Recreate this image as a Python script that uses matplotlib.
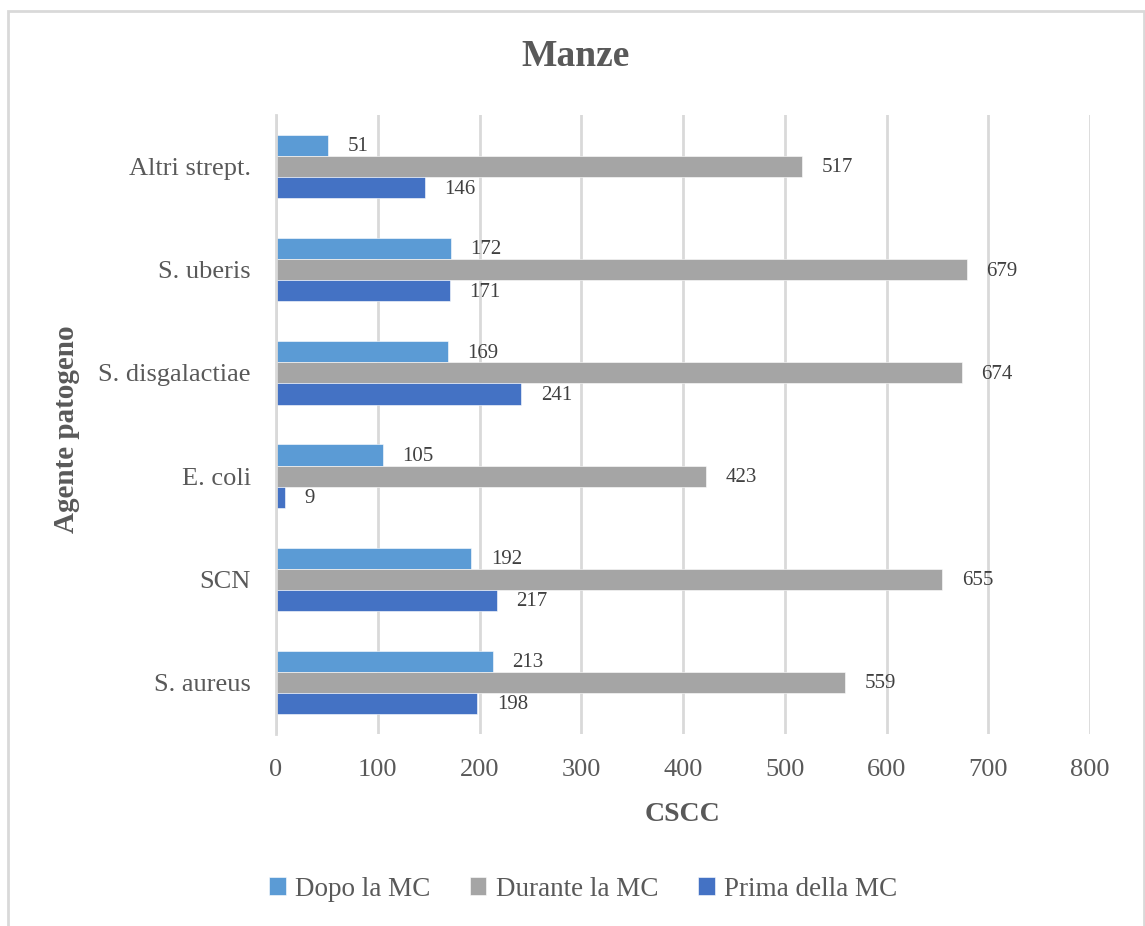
import matplotlib
matplotlib.use("Agg")
import matplotlib.pyplot as plt
from matplotlib.patches import Rectangle
import numpy as np

plt.rcParams['font.family'] = ['Liberation Serif', 'DejaVu Serif']

# Pathogens, listed bottom to top as drawn on the category axis
categories = ["S. aureus", "SCN", "E. coli", "S. disgalactiae", "S. uberis", "Altri strept."]
series_names = ["Dopo la MC", "Durante la MC", "Prima della MC"]
dopo = [213, 192, 105, 169, 172, 51]
durante = [559, 655, 423, 674, 679, 517]
prima = [198, 217, 9, 241, 171, 146]
x_ticks = [0, 100, 200, 300, 400, 500, 600, 700, 800]

colors = ["#5B9BD5", "#A5A5A5", "#4472C4"]
text_dark = "#595959"
label_color = "#404040"
grid_color = "#D9D9D9"

W, H = 1145, 926
fig = plt.figure(figsize=(W / 100, H / 100), dpi=100)
ax = fig.add_axes([276 / W, 1 - 734 / H, (1090 - 276) / W, (734 - 115) / H])

y = np.arange(len(categories))
h = 0.205
offsets = [h, 0.0, -h]
for vals, off, col, name in zip([dopo, durante, prima], offsets, colors, series_names):
    bars = ax.barh(y + off, vals, height=h, color=col, edgecolor="white",
                   linewidth=0.4, label=name, zorder=3)
    for b, v in zip(bars, vals):
        ax.annotate(str(v), (b.get_width(), b.get_y() + b.get_height() / 2),
                    xytext=(14, -1), textcoords="offset points",
                    ha="left", va="center", fontsize=15, color=label_color)

ax.set_xlim(0, 800)
ax.set_ylim(-0.5, len(categories) - 0.5)
ax.set_xticks(x_ticks)
ax.set_xticklabels([str(t) for t in x_ticks])
ax.set_yticks(y)
ax.set_yticklabels(categories)
ax.tick_params(axis="x", length=0, pad=18, labelsize=19, colors=text_dark)
ax.tick_params(axis="y", length=0, pad=18, labelsize=19, colors=text_dark)
ax.xaxis.grid(True, color=grid_color, linewidth=2, zorder=0)
ax.yaxis.grid(False)
for side in ["top", "right", "bottom"]:
    ax.spines[side].set_visible(False)
ax.spines["left"].set_color(grid_color)
ax.spines["left"].set_linewidth(2)
ax.spines["left"].set_zorder(4)

ax.set_xlabel("CSCC", fontsize=20, fontweight="bold", color=text_dark, labelpad=15)
fig.text(67 / W, 1 - 429 / H, "Agente patogeno", rotation=90, ha="center", va="center",
         fontsize=21, fontweight="bold", color=text_dark)

fig.text(576 / W, 1 - 56 / H, "Manze", ha="center", va="center",
         fontsize=27, fontweight="bold", color=text_dark)

leg = fig.legend(loc="center", bbox_to_anchor=(583 / W, 1 - 889 / H), ncol=3,
                 frameon=False, fontsize=19.5, handlelength=0.62, handleheight=0.62,
                 handletextpad=0.35, columnspacing=1.45, labelcolor=text_dark)

# Chart-area frame
fig.patches.append(Rectangle((8 / W, -0.05), (1144 - 8) / W, 1.05 - 11 / H,
                             transform=fig.transFigure, fill=False,
                             edgecolor=grid_color, linewidth=2))

fig.savefig("out.png", dpi=100)
